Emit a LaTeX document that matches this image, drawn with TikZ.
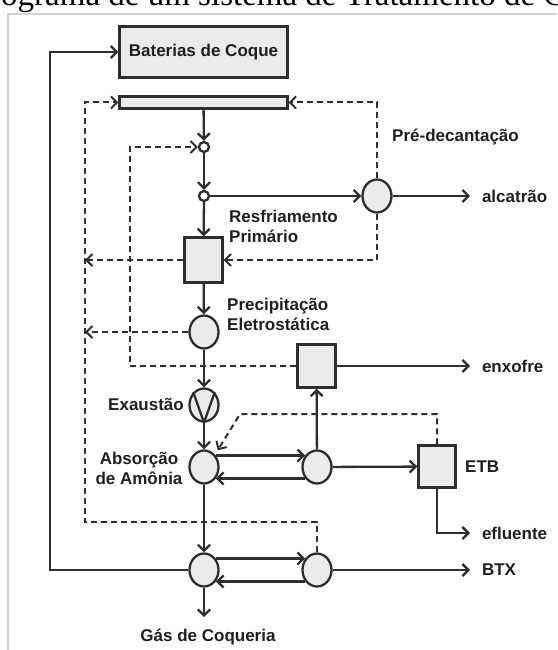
\documentclass[tikz,border=0pt]{standalone}
\usepackage{fontspec}
\setmainfont{Liberation Sans}
\newfontfamily\titlefont{Liberation Serif}
\usepackage{tikz}
\usetikzlibrary{arrows.meta, shapes.geometric}
\definecolor{linegray}{HTML}{2E2E2E}
\definecolor{boxgray}{HTML}{EBEBEB}
\definecolor{framegray}{HTML}{D2D2D2}
\tikzset{>={Straight Barb[length=6pt, width=12pt]}}
\tikzset{
    unit/.style={draw=linegray, fill=boxgray, line width=2.3pt, inner sep=0pt},
    vessel/.style={unit, ellipse, minimum width=29pt, minimum height=33pt},
    tank/.style={unit, rectangle, minimum width=38pt, minimum height=44pt},
    joint/.style={unit, circle, fill=white, minimum size=10pt},
    lbl/.style={font=\fontsize{17}{20}\selectfont\bfseries, text=black!88, inner sep=0pt},
    outlet/.style={lbl, anchor=west, outer xsep=12pt},
    flow/.style={draw=linegray, line width=2.3pt, ->},
    recycle/.style={flow, line width=2pt, dash pattern=on 6pt off 4pt},
}

\begin{document}
\begin{tikzpicture}[x=1pt, y=-1pt]
    \useasboundingbox(0, 0)rectangle(557, 650);
    \clip(0, 0)rectangle(557, 650);
    \draw[framegray, line width=1.5pt](8, 650)--(8, 14)--(557, 14);
    \node[anchor=base west, inner sep=0pt, font=\titlefont\fontsize{33}{36}\selectfont](title)at(1, 6){ograma de um sistema de Tratamento de G};
    % units
    \node[tank, lbl, minimum width=168pt, minimum height=51pt](bat)at(203.5, 52){Baterias de Coque};
    \node[unit, minimum width=168pt, minimum height=12pt](bar)at(203.5, 102.5){};
    \node[joint](j1)at(204, 147){};
    \node[joint](j2)at(204, 196){};
    \node[vessel](pre)at(377, 196){};
    \node[tank, minimum height=45pt](resf)at(203.5, 260){};
    \node[vessel](ele)at(204, 332){};
    \node[vessel](exa)at(204, 405){};
    \node[tank, minimum height=43pt](enx)at(316.5, 366){};
    \node[vessel](amo)at(204, 467){};
    \node[vessel](lav)at(317, 467){};
    \node[tank, minimum width=37pt, minimum height=42pt](etb)at(437, 466.5){};
    \node[vessel](btx1)at(204, 570){};
    \node[vessel](btx2)at(317, 570){};
    \draw[draw=linegray, line width=2.3pt](exa.130)--(exa.south)--(exa.50);
    % labels
    \node[lbl, anchor=west](predec)at(392, 137){Pré-decantação};
    \node[outlet](alc)at(470, 196){alcatrão};
    \node[lbl, anchor=west, align=left](resflbl)at(229, 226.5){Resfriamento\\Primário};
    \node[lbl, anchor=west, align=left](elelbl)at(227, 314){Precipitação\\Eletrostática};
    \node[lbl, anchor=east](exalbl)at(184, 404){Exaustão};
    \node[lbl, align=center](amolbl)at(139, 468.5){Absorção\\de Amônia};
    \node[lbl, anchor=west](etblbl)at(465, 467){ETB};
    \node[outlet](enxlbl)at(470, 366){enxofre};
    \node[outlet](eflbl)at(470, 533){efluente};
    \node[outlet](btxlbl)at(470, 570){BTX};
    \node[lbl](gaslbl)at(208, 637){Gás de Coqueria};
    \coordinate(gas)at(204, 617);
    \coordinate(loop)at(50, 52);
    \coordinate(outer)at(85, 522);
    \coordinate(inner)at(130, 366);
    \coordinate(bend)at(240, 414);
    % gas line
    \draw[flow](bar)--(j1);
    \draw[flow](j1)--(j2);
    \draw[flow](j2)--(resf);
    \draw[flow](j2)--(pre);
    \draw[flow](pre)--(alc);
    \draw[flow](resf)--(ele);
    \draw[flow](ele)--(exa);
    \draw[flow](exa)--(amo);
    \draw[flow](amo)--(btx1);
    \draw[flow](btx1)--(gas);
    \draw[flow](amo.44)--(lav.136);
    \draw[flow](lav.-136)--(amo.-44);
    \draw[flow](btx1.44)--(btx2.136);
    \draw[flow](btx2.-136)--(btx1.-44);
    \draw[flow](lav)--(enx);
    \draw[flow](lav)--(etb);
    \draw[flow](enx)--(enxlbl);
    \draw[flow](etb.south)|-(eflbl);
    \draw[flow](btx2)--(btxlbl);
    \draw[flow](btx1.west)-|(loop)--(bat);
    % recycles
    \draw[recycle](btx2.north)|-(outer)|-(bar.west);
    \draw[recycle](resf)--(resf.west-|outer);
    \draw[recycle](ele)--(ele.west-|outer);
    \draw[recycle](pre.north)|-(bar.east);
    \draw[recycle](pre.south)|-(resf.east);
    \draw[recycle](enx)--(inner)|-(j1);
    \draw[recycle, shorten >=5pt](etb.north)|-(bend)--(amo.north east);
\end{tikzpicture}
\end{document}
